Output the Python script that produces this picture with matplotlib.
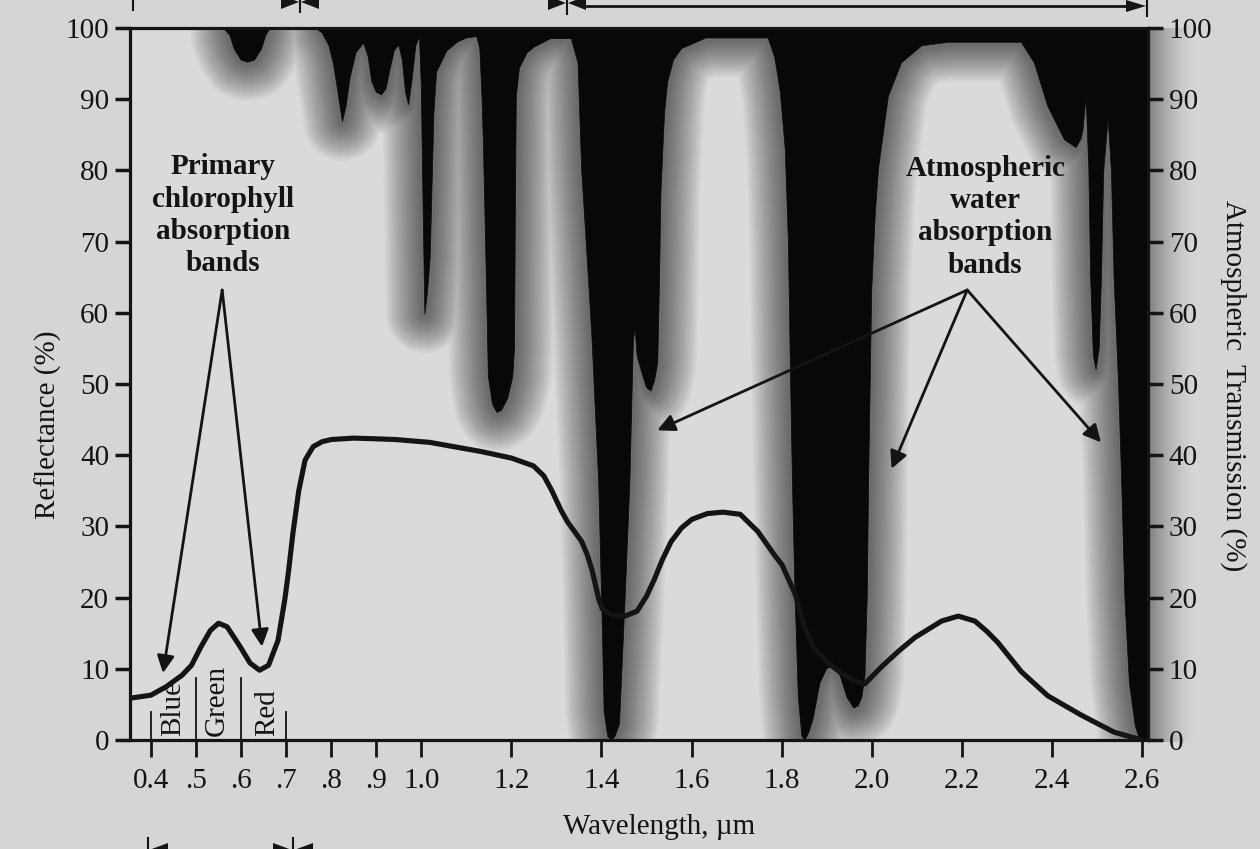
import numpy as np
import matplotlib.pyplot as plt
from matplotlib import patheffects as pe
from matplotlib.lines import Line2D
from matplotlib.patches import Polygon

plt.rcParams['font.family'] = ['Liberation Serif', 'DejaVu Serif']

# atmospheric transmission (%)
trans_wl = [0.35, 0.56, 0.575, 0.585, 0.60, 0.615, 0.63, 0.645, 0.655, 0.665,
            0.765, 0.78, 0.795, 0.805, 0.815, 0.825, 0.833, 0.842, 0.855, 0.872,
            0.882, 0.89, 0.90, 0.912, 0.922, 0.93, 0.94, 0.95, 0.958, 0.965,
            0.972, 0.98, 0.988, 0.996, 1.0, 1.004, 1.008, 1.014, 1.02, 1.024,
            1.028, 1.034, 1.057, 1.08, 1.10, 1.123, 1.13, 1.135, 1.138, 1.142,
            1.145, 1.149, 1.158, 1.168, 1.178, 1.192, 1.203, 1.207, 1.209, 1.211,
            1.218, 1.235, 1.25, 1.287, 1.333, 1.348, 1.356, 1.368, 1.379, 1.394,
            1.402, 1.406, 1.414, 1.422, 1.43, 1.44, 1.452, 1.463, 1.471, 1.475,
            1.479, 1.49, 1.50, 1.51, 1.518, 1.525, 1.529, 1.532, 1.54, 1.547,
            1.56, 1.578, 1.632, 1.77, 1.785, 1.797, 1.808, 1.815, 1.82, 1.824,
            1.83, 1.837, 1.845, 1.852, 1.86, 1.87, 1.885, 1.90, 1.915, 1.93,
            1.945, 1.96, 1.97, 1.978, 1.985, 1.99, 1.993, 2.0, 2.008, 2.015,
            2.037, 2.066, 2.111, 2.17, 2.332, 2.361, 2.391, 2.428, 2.454, 2.465,
            2.469, 2.476, 2.482, 2.486, 2.492, 2.498, 2.505, 2.51, 2.515, 2.525,
            2.532, 2.538, 2.548, 2.555, 2.562, 2.572, 2.585, 2.595, 2.615]
trans_pct = [100, 100, 99, 97, 95.5, 95.2, 95.5, 97, 99, 100,
             100, 99.3, 97.5, 95, 91, 86.8, 89, 93, 96.5, 97.9,
             96, 92.5, 91, 90.6, 91.5, 94, 96.8, 97.6, 95.5, 91,
             89.2, 93, 97.5, 98.8, 92, 75, 59.8, 63, 68, 78,
             88, 93.8, 96.8, 98, 98.6, 98.8, 97.1, 90, 83.6, 72,
             63.2, 51, 47.2, 46, 46.3, 48, 51, 55, 75, 90.4,
             94.4, 96.5, 97.3, 98.5, 98.5, 95.1, 80.2, 68, 56.4, 36.1,
             15.7, 4, 0.5, 0, 0.5, 2.2, 19.1, 36, 56.4, 57.6,
             54, 51.5, 49.5, 49, 50.5, 53, 65, 76.8, 88, 92.4,
             95.5, 97.1, 98.6, 98.6, 95.8, 91, 83, 70, 50, 36,
             20, 6, 0.5, 0, 1, 3, 8, 10, 10.5, 9,
             6, 4.5, 4.8, 6, 9, 20, 36, 63.2, 74, 80.2,
             90.4, 95.1, 97.5, 98, 98, 95.1, 89, 84.3, 83.2, 84.5,
             85.7, 90.4, 80, 65, 54, 52, 55, 65, 80, 87.3,
             80, 65, 50, 36, 20, 8, 2, 0, 0]

# green vegetation reflectance (%)
refl_wl = [0.357, 0.40, 0.434, 0.469, 0.49, 0.511, 0.532, 0.55, 0.569, 0.598,
           0.62, 0.641, 0.661, 0.682, 0.697, 0.705, 0.715, 0.728, 0.742, 0.76,
           0.78, 0.80, 0.85, 0.90, 0.943, 1.019, 1.134, 1.20, 1.249, 1.272,
           1.29, 1.31, 1.325, 1.34, 1.356, 1.368, 1.379, 1.394, 1.402, 1.425,
           1.452, 1.479, 1.50, 1.517, 1.535, 1.555, 1.578, 1.601, 1.635, 1.67,
           1.708, 1.747, 1.785, 1.801, 1.83, 1.85, 1.87, 1.90, 1.93, 1.96,
           1.985, 2.022, 2.06, 2.096, 2.155, 2.192, 2.229, 2.255, 2.28, 2.332,
           2.391, 2.465, 2.538, 2.60]
refl_pct = [5.9, 6.3, 7.5, 9.1, 10.5, 13.1, 15.4, 16.4, 15.9, 13.1,
            10.8, 9.8, 10.5, 14, 19.7, 23.5, 29, 35, 39.3, 41.2,
            41.9, 42.2, 42.4, 42.3, 42.2, 41.8, 40.5, 39.6, 38.5, 37.1,
            35, 32.3, 30.6, 29.3, 27.9, 26.1, 23.9, 19.8, 18.4, 17.5,
            17.4, 18.1, 20.2, 22.5, 25.3, 27.9, 29.8, 31, 31.8, 32,
            31.7, 29.3, 25.9, 24.6, 20.5, 16, 13, 11, 9.5, 8.3,
            7.9, 10.3, 12.5, 14.4, 16.7, 17.4, 16.7, 15.3, 13.7, 9.6,
            6.2, 3.5, 1.1, 0]

xtick_vals = [0.4, 0.5, 0.6, 0.7, 0.8, 0.9, 1.0, 1.2, 1.4, 1.6, 1.8, 2.0, 2.2, 2.4, 2.6]
xtick_labels = ['0.4', '.5', '.6', '.7', '.8', '.9', '1.0', '1.2', '1.4', '1.6',
                '1.8', '2.0', '2.2', '2.4', '2.6']
ytick_vals = list(range(0, 101, 10))

band_names = ['Blue', 'Green', 'Red']
band_label_x = [0.449, 0.5465, 0.6575]
band_edges = [0.4, 0.5, 0.6, 0.7]
band_edge_tops = [4, 8.7, 8.7, 4]

chl_text = 'Primary\nchlorophyll\nabsorption\nbands'
chl_apex = (0.558, 63.2)
chl_tips_x = [0.4266, 0.6464]
chl_tips_y = [9.4, 13.1]

h2o_text = 'Atmospheric\nwater\nabsorption\nbands'
h2o_apex = (2.212, 63.2)
h2o_tips_x = [1.524, 2.044, 2.509]
h2o_tips_y = [43.5, 38.1, 41.8]

W, H = 1260, 849
bg = '#d5d5d5'
ink = '#141414'


def fx(px):
    return px / W


def fy(py):
    return 1 - py / H


fig = plt.figure(figsize=(W / 100, H / 100), dpi=100, facecolor=bg)
ax = fig.add_axes([fx(130), fy(740), fx(1148) - fx(130), fy(28) - fy(740)])
ax.set_facecolor('#dadada')
ax.set_xlim(0.3534, 2.6133)
ax.set_ylim(0, 100)

# soft shadow round the absorption bands
tp = np.array(trans_pct, dtype=float)
halo = np.where(tp >= 99.95, np.nan, tp)
ax.plot(trans_wl, halo, color='k', lw=1, zorder=1.5,
        path_effects=[pe.Stroke(linewidth=w, foreground='k', alpha=0.035,
                                capstyle='round', joinstyle='round')
                      for w in range(56, 3, -3)])

# black = absorbed by the atmosphere (above the transmission curve)
poly_x = np.r_[trans_wl[0], trans_wl, trans_wl[-1]]
poly_y = np.r_[130, trans_pct, 130]
ax.fill(poly_x, poly_y, color='#080808', lw=0.5, zorder=2)

# reflectance curve
ax.plot(refl_wl, refl_pct, color=ink, lw=3.7, solid_capstyle='round',
        solid_joinstyle='round', zorder=4)

# colour bands
for x0, top in zip(band_edges, band_edge_tops):
    ax.plot([x0, x0], [0, top], color=ink, lw=1.3, zorder=4)
for name, xb in zip(band_names, band_label_x):
    ax.text(xb, 0.6, name, rotation=90, ha='center', va='bottom',
            fontsize=21, color=ink, zorder=5)

# annotations
ax.text(0.56, 73.7, chl_text, ha='center', va='center', fontsize=21,
        fontweight='bold', linespacing=1.25, color=ink, zorder=5)
for tx, ty in zip(chl_tips_x, chl_tips_y):
    ax.annotate('', xy=(tx, ty), xytext=chl_apex, zorder=5,
                arrowprops=dict(arrowstyle='-|>', color=ink, lw=2,
                                mutation_scale=26, shrinkA=0, shrinkB=0))
ax.text(2.252, 73.5, h2o_text, ha='center', va='center', fontsize=21,
        fontweight='bold', linespacing=1.25, color=ink, zorder=5)
for tx, ty in zip(h2o_tips_x, h2o_tips_y):
    ax.annotate('', xy=(tx, ty), xytext=h2o_apex, zorder=5,
                arrowprops=dict(arrowstyle='-|>', color=ink, lw=2,
                                mutation_scale=26, shrinkA=0, shrinkB=0))

# axes styling
ax.set_xticks(xtick_vals)
ax.set_xticklabels(xtick_labels)
ax.set_yticks(ytick_vals)
ax.tick_params(axis='x', direction='out', length=12, width=2, pad=8,
               labelsize=21, colors=ink)
ax.tick_params(axis='y', direction='out', length=11, width=2.5, pad=4,
               labelsize=21, colors=ink)
for s in ax.spines.values():
    s.set_linewidth(2.3)
    s.set_color(ink)
    s.set_zorder(6)

ax2 = ax.twinx()
ax2.set_ylim(0, 100)
ax2.set_yticks(ytick_vals)
ax2.tick_params(axis='y', direction='out', length=11, width=2.5, pad=4,
                labelsize=21, colors=ink)
for s in ax2.spines.values():
    s.set_visible(False)

# shadow spilling past the right edge of the plot
gax = fig.add_axes([fx(1148), fy(742), fx(1195) - fx(1148), fy(28) - fy(742)])
gax.set_zorder(-1)
grad = np.zeros((1, 64, 4))
grad[..., 3] = np.linspace(0.55, 0, 64) ** 1.5
gax.imshow(grad, aspect='auto', extent=[0, 1, 0, 1])
gax.axis('off')

fig.text(fx(48), fy(425), 'Reflectance (%)', rotation=90, ha='center',
         va='center', fontsize=21, color=ink)
fig.text(fx(1233), fy(386), 'Atmospheric  Transmission (%)', rotation=-90,
         ha='center', va='center', fontsize=21, color=ink)
fig.text(fx(659), fy(827), 'Wavelength, \u00b5m', ha='center', va='center',
         fontsize=21, color=ink)

# bits of the spectral-region brackets cut off at the page edges
for px, top, bot in [(133, -2, 10), (300, -2, 12), (567, -2, 14), (1147, -2, 16)]:
    fig.add_artist(Line2D([fx(px), fx(px)], [fy(top), fy(bot)], color=ink, lw=1.5))
fig.add_artist(Line2D([fx(587), fx(1130)], [fy(6), fy(6)], color=ink, lw=2))
heads = [[(1146, 6), (1126, 0), (1126, 12)],
         [(299, 2), (281, -5), (281, 9)], [(301, 2), (319, -5), (319, 9)],
         [(566, 3), (548, -4), (548, 10)], [(568, 3), (586, -4), (586, 10)],
         [(149, 850), (168, 843), (168, 857)],
         [(292, 850), (273, 843), (273, 857)], [(294, 850), (313, 843), (313, 857)]]
for tri in heads:
    fig.add_artist(Polygon([(fx(a), fy(b)) for a, b in tri], closed=True,
                           color=ink, lw=0))
for px in (148, 293):
    fig.add_artist(Line2D([fx(px), fx(px)], [fy(838), fy(851)], color=ink, lw=1.5))

fig.savefig('out.png', dpi=100, facecolor=bg)
